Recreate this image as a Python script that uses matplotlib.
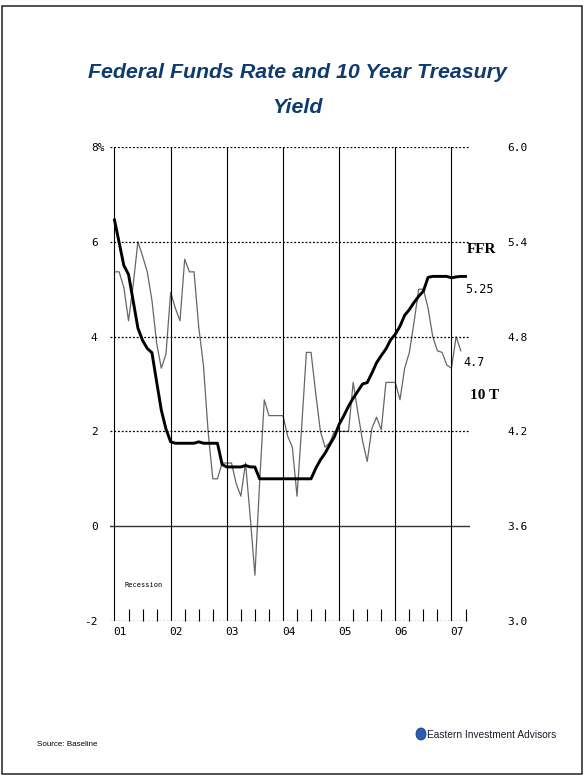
import numpy as np
import matplotlib.pyplot as plt
from matplotlib.patches import Rectangle, Ellipse
from matplotlib.transforms import ScaledTranslation

# --- data (monthly, Jan 2001 onward) ---
ffr = [6.46, 5.98, 5.50, 5.31, 4.75, 4.18, 3.92, 3.75, 3.66, 3.05, 2.45, 2.05,
       1.78, 1.75, 1.75, 1.75, 1.75, 1.75, 1.78, 1.75, 1.75, 1.75, 1.75, 1.30,
       1.25, 1.25, 1.25, 1.25, 1.28, 1.25, 1.25, 1.00, 1.00, 1.00, 1.00, 1.00,
       1.00, 1.00, 1.00, 1.00, 1.00, 1.00, 1.00, 1.22, 1.40, 1.54, 1.72, 1.89,
       2.15, 2.33, 2.53, 2.70, 2.85, 3.00, 3.03, 3.23, 3.45, 3.60, 3.74, 3.93,
       4.05, 4.22, 4.45, 4.57, 4.72, 4.85, 4.96, 5.25, 5.27, 5.27, 5.27, 5.27,
       5.24, 5.26, 5.27, 5.27]

tsy10 = [5.21, 5.21, 5.11, 4.90, 5.13, 5.40, 5.31, 5.21, 5.03, 4.76, 4.60, 4.69,
         5.08, 4.98, 4.90, 5.29, 5.21, 5.21, 4.86, 4.62, 4.20, 3.90, 3.90, 4.00,
         4.00, 4.00, 3.87, 3.79, 4.00, 3.66, 3.29, 3.87, 4.40, 4.30, 4.30, 4.30,
         4.30, 4.17, 4.10, 3.79, 4.23, 4.70, 4.70, 4.44, 4.20, 4.10, 4.13, 4.20,
         4.20, 4.20, 4.20, 4.51, 4.32, 4.14, 4.01, 4.22, 4.29, 4.21, 4.51, 4.51,
         4.51, 4.40, 4.60, 4.70, 4.89, 5.10, 5.10, 4.98, 4.80, 4.71, 4.70, 4.62,
         4.60, 4.80, 4.71]

years = [2001, 2002, 2003, 2004, 2005, 2006, 2007]
year_labels = ['01', '02', '03', '04', '05', '06', '07']
left_ticks = [-2, 0, 2, 4, 6, 8]
left_labels = ['-2', '0', '2', '4', '6', '8%']
right_ticks = [3.0, 3.6, 4.2, 4.8, 5.4, 6.0]

x_ffr = 2001 + np.arange(len(ffr)) / 12
x_tsy = 2001 + np.arange(len(tsy10)) / 12

W, H = 586, 776
fig = plt.figure(figsize=(W / 100, H / 100), dpi=100)

# page frame
fig.add_artist(Rectangle((2 / W, 2 / H), 580 / W, 768 / H, transform=fig.transFigure,
                         fill=False, edgecolor='#222222', linewidth=1.1))

# title
title_kw = dict(ha='center', va='baseline', color='#0f3b6e', fontsize=15.4,
                fontweight='bold', fontstyle='italic', family='Liberation Sans')
fig.text(297 / W, 1 - 78 / H, 'Federal Funds Rate and 10 Year Treasury', **title_kw)
fig.text(297 / W, 1 - 113 / H, 'Yield', **title_kw)

ax = fig.add_axes([110 / W, 1 - 621 / H, 360 / W, 474 / H])
ax2 = ax.twinx()
ax.set_zorder(ax2.get_zorder() + 1)
ax.patch.set_visible(False)

mono = 'DejaVu Sans Mono'

ax.set_xlim(2000.92, 2007.33)
ax.set_ylim(-2, 8)
ax2.set_ylim(3.0, 6.0)

for a in (ax, ax2):
    for s in a.spines.values():
        s.set_visible(False)

# grid
for v in left_ticks:
    if v == 0:
        ax.axhline(v, color='#333333', lw=1.0)
    else:
        ax.axhline(v, color='black', lw=0.9, ls=(0, (1.5, 1.5)))
for yr in years:
    ax.axvline(yr, color='black', lw=0.8)

# series
ax2.plot(x_tsy, tsy10, color='#666666', lw=0.9)
ax.plot(x_ffr, ffr, color='black', lw=2.1, solid_joinstyle='round')

# x ticks
ax.set_xticks(years)
ax.set_xticklabels(year_labels, family=mono, fontsize=8)
quarters = [y + q / 4 for y in years for q in (1, 2, 3) if y + q / 4 < 2007.33]
ax.set_xticks(quarters, minor=True)
ax.tick_params(axis='x', which='major', length=0, pad=4)
ax.tick_params(axis='x', which='minor', direction='in', length=8.6, width=0.8)
shift = ScaledTranslation(4 / 72, 0, fig.dpi_scale_trans)
for lab in ax.get_xticklabels():
    lab.set_transform(lab.get_transform() + shift)

# left y
ax.set_yticks(left_ticks)
ax.set_yticklabels(left_labels, family=mono, fontsize=8)
ax.tick_params(axis='y', length=0, pad=9)
pct = ax.get_yticklabels()[-1]
pct.set_transform(pct.get_transform() + ScaledTranslation(5 / 72, 0, fig.dpi_scale_trans))

# right y
ax2.set_yticks(right_ticks)
ax2.set_yticklabels(['%.1f' % v for v in right_ticks], family=mono, fontsize=8)
ax2.tick_params(axis='y', length=0, pad=27)

# annotations
ax.text(2007.27, 5.84, 'FFR', family='Liberation Serif', fontweight='bold',
        fontsize=11, va='center', ha='left')
ax.text(2007.33, 2.75, '10 T', family='Liberation Serif', fontweight='bold',
        fontsize=11, va='center', ha='left')
ax.text(2007.25, 5.0, '5.25', family=mono, fontsize=8.5, va='center', ha='left')
ax.text(2007.21, 3.45, '4.7', family=mono, fontsize=8.5, va='center', ha='left')
ax.text(2001.18, -1.24, 'Recession', family=mono, fontsize=5, va='center', ha='left')

# footer
fig.text(37 / W, 1 - 745 / H, 'Source: Baseline', family='Liberation Sans',
         fontsize=5.8, va='center', ha='left')
fig.add_artist(Ellipse((421 / W, 1 - 734 / H), 10 / W, 12 / H, transform=fig.transFigure,
                       facecolor='#2a5db0', edgecolor='#1a3f80', lw=0.6))
fig.text(427 / W, 1 - 735 / H, 'Eastern Investment Advisors', family='Liberation Sans',
         fontsize=7.3, va='center', ha='left', color='#1b1b2a')

fig.savefig('out.png', dpi=100)
